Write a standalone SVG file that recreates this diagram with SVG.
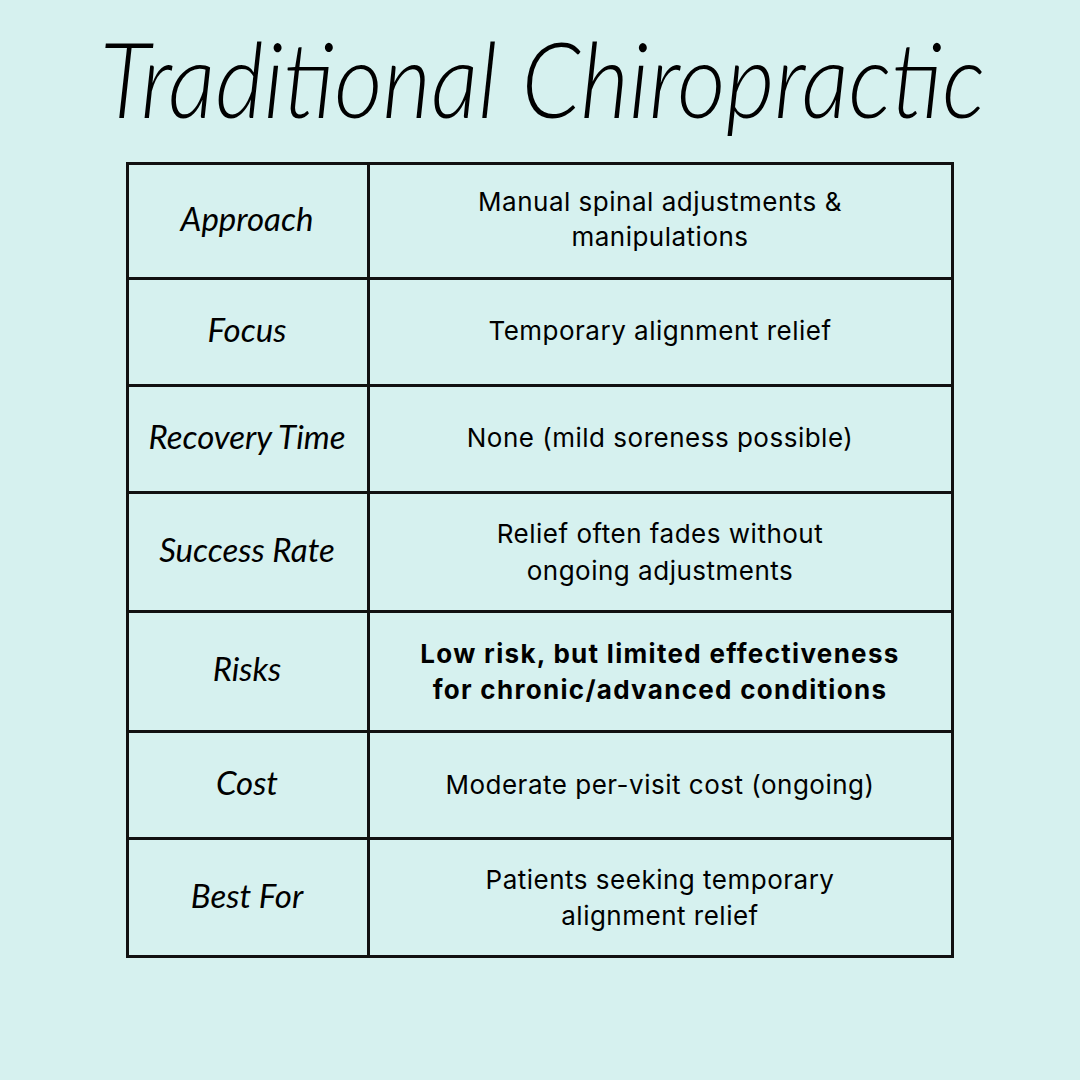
<svg xmlns="http://www.w3.org/2000/svg" width="1080" height="1080" viewBox="0 0 1080 1080">
<style>
.bg{fill:#d6f1ef}
.grid{stroke:#111;stroke-width:3;fill:none}
.title{font-family:Lato,"Open Sans",sans-serif;font-weight:300;font-style:italic;font-size:104px;fill:#000}
.lab{font-family:Lato,"Open Sans",sans-serif;font-style:italic;font-size:33px;fill:#000;text-anchor:middle}
.val{font-family:Inter,"Open Sans",sans-serif;font-size:26px;letter-spacing:0.5px;fill:#000;text-anchor:middle}
.bold{font-weight:700;letter-spacing:1.3px}
</style>
<rect class="bg" x="0" y="0" width="1080" height="1080"/>
<text id="title" class="title" x="100" y="118" textLength="885" lengthAdjust="spacingAndGlyphs">Traditional Chiropractic</text>
<g id="table-grid" class="grid">
<rect x="127.5" y="163.5" width="825" height="793"/>
<line x1="368.5" y1="163.5" x2="368.5" y2="956.5"/>
<line x1="127.5" y1="278.5" x2="952.5" y2="278.5"/>
<line x1="127.5" y1="385.5" x2="952.5" y2="385.5"/>
<line x1="127.5" y1="492.5" x2="952.5" y2="492.5"/>
<line x1="127.5" y1="611.5" x2="952.5" y2="611.5"/>
<line x1="127.5" y1="731.5" x2="952.5" y2="731.5"/>
<line x1="127.5" y1="838.5" x2="952.5" y2="838.5"/>
</g>
<g id="row-approach">
<text class="lab" x="247" y="231">Approach</text>
<text class="val" x="660" y="211">Manual spinal adjustments &amp;</text>
<text class="val" x="660" y="246">manipulations</text>
</g>
<g id="row-focus">
<text class="lab" x="247" y="342">Focus</text>
<text class="val" x="660" y="340">Temporary alignment relief</text>
</g>
<g id="row-recovery">
<text class="lab" x="247" y="449">Recovery Time</text>
<text class="val" x="660" y="447">None (mild soreness possible)</text>
</g>
<g id="row-success">
<text class="lab" x="247" y="562">Success Rate</text>
<text class="val" x="660" y="543">Relief often fades without</text>
<text class="val" x="660" y="580">ongoing adjustments</text>
</g>
<g id="row-risks">
<text class="lab" x="247" y="681">Risks</text>
<text class="val bold" x="660" y="663">Low risk, but limited effectiveness</text>
<text class="val bold" x="660" y="699">for chronic/advanced conditions</text>
</g>
<g id="row-cost">
<text class="lab" x="247" y="795">Cost</text>
<text class="val" x="660" y="794">Moderate per-visit cost (ongoing)</text>
</g>
<g id="row-bestfor">
<text class="lab" x="247" y="908">Best For</text>
<text class="val" x="660" y="889">Patients seeking temporary</text>
<text class="val" x="660" y="925">alignment relief</text>
</g>
</svg>
